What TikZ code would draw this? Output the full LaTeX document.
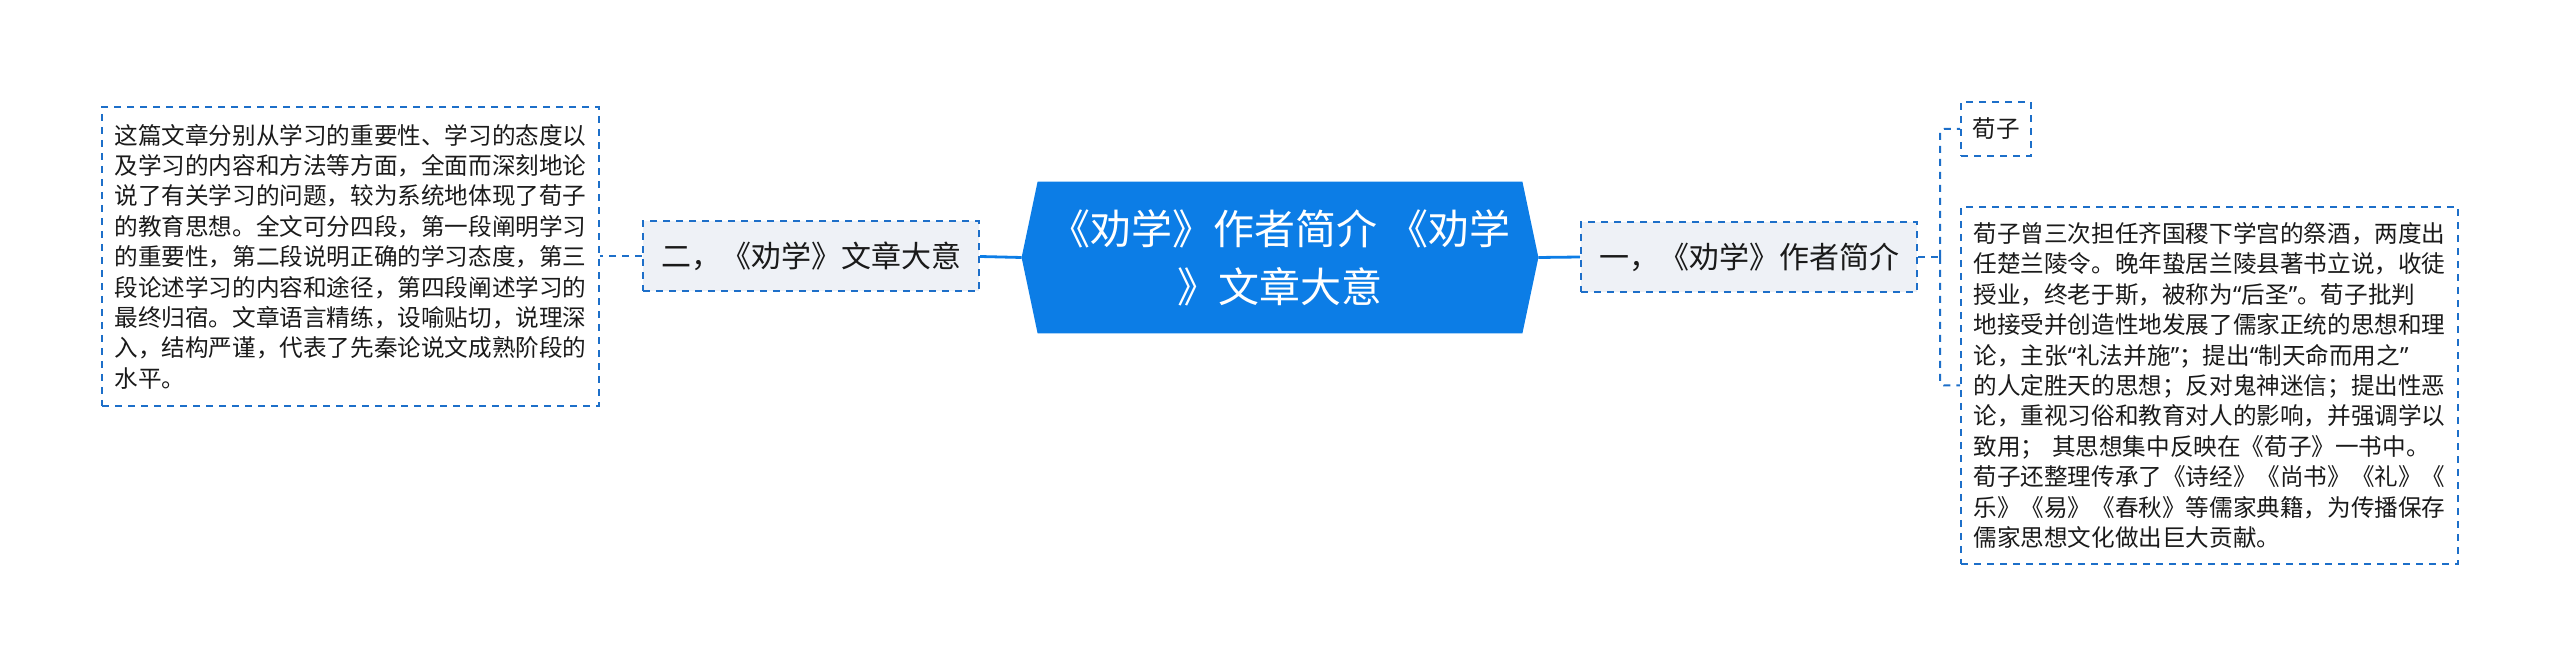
\documentclass[tikz,border=0pt]{standalone}
\usepackage{fontspec}
\newfontfamily\cjk{Noto Sans CJK SC}
\newfontfamily\latq{Noto Sans}
\newcommand{\qopen}{{\latq “}}
\newcommand{\qclose}{{\latq ”}}
\usetikzlibrary{calc}
\pgfdeclarelayer{bg}
\pgfsetlayers{bg,main}
\definecolor{mainblue}{HTML}{0C7DE6}
\definecolor{dashblue}{HTML}{1D6FC9}
\definecolor{lightfill}{HTML}{EEF1F6}
\definecolor{txt}{HTML}{1A1A1A}
\tikzset{
  dashbox/.style={draw=dashblue, line width=1pt, dash pattern=on 3.5pt off 3pt, inner sep=0pt, text=txt},
  bigtext/.style={dashbox, font=\cjk\fontsize{11.8pt}{15.2pt}\selectfont, align=left, text width=236pt, minimum width=248.5pt},
  midbox/.style={dashbox, fill=lightfill, font=\cjk\fontsize{15pt}{18pt}\selectfont, minimum width=168pt, minimum height=35pt},
  smallbox/.style={dashbox, font=\cjk\fontsize{11.8pt}{15.2pt}\selectfont, minimum width=35pt, minimum height=27pt},
  centertext/.style={font=\cjk\fontsize{20.5pt}{29pt}\selectfont, text=white, align=center, minimum width=258pt, minimum height=75.5pt, inner sep=0pt},
  thicklink/.style={draw=mainblue, line width=1.4pt},
  thinlink/.style={draw=dashblue, line width=1pt, dash pattern=on 3.5pt off 3pt},
}
\begin{document}
\begin{tikzpicture}[x=0.5pt,y=-0.5pt]
\useasboundingbox (0,0) rectangle (2560,667);

\node[centertext] (c) at (1280,257.5) {《劝学》作者简介 《劝学\\》文章大意};
\begin{pgfonlayer}{bg}
\fill[mainblue] ($(c.north west)+(16,0)$) -- ($(c.north east)+(-16,0)$) -- (c.east)
  -- ($(c.south east)+(-16,0)$) -- ($(c.south west)+(16,0)$) -- (c.west) -- cycle;
\end{pgfonlayer}

\node[midbox] (er) at (811,256.5) {二，《劝学》文章大意};
\node[midbox] (yi) at (1749,257) {一，《劝学》作者简介};

\node[bigtext, minimum height=149.5pt] (left) at (350.5,256.5) {这篇文章分别从学习的重要性、学习的态度以\\
及学习的内容和方法等方面，全面而深刻地论\\
说了有关学习的问题，较为系统地体现了荀子\\
的教育思想。全文可分四段，第一段阐明学习\\
的重要性，第二段说明正确的学习态度，第三\\
段论述学习的内容和途径，第四段阐述学习的\\
最终归宿。文章语言精练，设喻贴切，说理深\\
入，结构严谨，代表了先秦论说文成熟阶段的\\
水平。};

\node[smallbox] (xunzi) at (1996,129) {荀子};

\node[bigtext, minimum height=178.5pt] (bio) at (2209.5,385.5) {荀子曾三次担任齐国稷下学宫的祭酒，两度出\\
任楚兰陵令。晚年蛰居兰陵县著书立说，收徒\\
授业，终老于斯，被称为\qopen 后圣\qclose 。荀子批判\\
地接受并创造性地发展了儒家正统的思想和理\\
论，主张\qopen 礼法并施\qclose ；提出\qopen 制天命而用之\qclose\\
的人定胜天的思想；反对鬼神迷信；提出性恶\\
论，重视习俗和教育对人的影响，并强调学以\\
致用； 其思想集中反映在《荀子》一书中。\\
荀子还整理传承了《诗经》《尚书》《礼》《\\
乐》《易》《春秋》等儒家典籍，为传播保存\\
儒家思想文化做出巨大贡献。};

\draw[thicklink] (er.east) -- (c.west);
\draw[thicklink] (c.east) -- (yi.west);
\draw[thinlink] (er.west) -- (left.east);
\coordinate (br) at ($(yi.east)+(22,0)$);
\draw[thinlink] (yi.east) -- (br);
\draw[thinlink, rounded corners=2pt] (br) |- (xunzi.west);
\draw[thinlink, rounded corners=2pt] (br) |- (bio.west);
\end{tikzpicture}
\end{document}
